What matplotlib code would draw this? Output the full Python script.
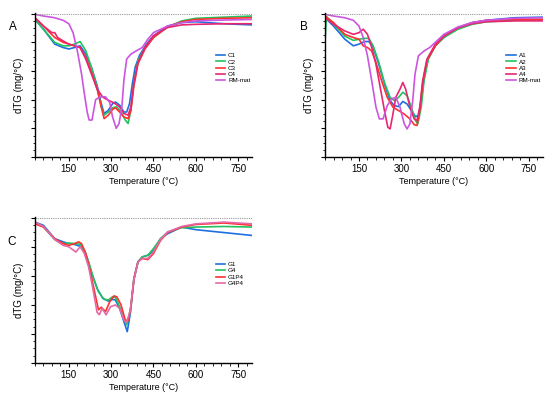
import numpy as np
import matplotlib.pyplot as plt
from matplotlib.ticker import MultipleLocator, NullFormatter

plt.rcParams['font.family'] = ['Liberation Sans', 'DejaVu Sans']

# ---- panel A (values are dTG depth below zero, arbitrary units) ----
t_c1 = [30, 60, 100, 130, 150, 170, 190, 210, 230, 250, 265, 275, 290, 305, 315, 330, 345, 355, 365, 375, 385, 400, 425, 450, 500, 550, 600, 700, 800]
c1 = [0.20, 0.54, 1.06, 1.18, 1.23, 1.18, 1.12, 1.41, 1.87, 2.50, 3.14, 3.48, 3.37, 3.14, 3.08, 3.19, 3.43, 3.43, 3.14, 2.45, 1.87, 1.46, 1.06, 0.77, 0.43, 0.31, 0.28, 0.35, 0.39]
t_c2 = [30, 60, 100, 130, 150, 170, 190, 210, 230, 250, 265, 275, 290, 305, 320, 335, 350, 360, 370, 380, 395, 420, 450, 500, 550, 600, 700, 800]
c2 = [0.20, 0.54, 1.00, 1.12, 1.12, 1.06, 0.97, 1.29, 1.87, 2.56, 3.25, 3.54, 3.43, 3.28, 3.25, 3.43, 3.71, 3.83, 3.37, 2.45, 1.64, 1.18, 0.83, 0.46, 0.25, 0.16, 0.12, 0.08]
t_c3 = [30, 60, 100, 130, 150, 170, 190, 210, 230, 250, 265, 275, 290, 305, 315, 330, 345, 360, 370, 380, 395, 420, 450, 500, 550, 600, 700, 800]
c3 = [0.14, 0.43, 0.83, 1.00, 1.06, 1.12, 1.18, 1.52, 2.04, 2.62, 3.25, 3.66, 3.54, 3.34, 3.28, 3.43, 3.60, 3.66, 3.37, 2.56, 1.75, 1.23, 0.83, 0.46, 0.28, 0.20, 0.16, 0.14]
t_c4 = [30, 60, 90, 100, 110, 130, 150, 170, 190, 210, 230, 250, 270, 290, 310, 330, 345, 360, 370, 380, 395, 420, 450, 500, 550, 600, 700, 800]
c4 = [0.14, 0.43, 0.66, 0.66, 0.83, 0.95, 1.06, 1.12, 1.18, 1.58, 2.10, 2.62, 2.91, 3.02, 3.11, 3.25, 3.48, 3.54, 3.25, 2.45, 1.70, 1.18, 0.77, 0.48, 0.39, 0.37, 0.35, 0.35]
t_rma = [30, 60, 100, 130, 150, 165, 180, 195, 205, 215, 222, 232, 245, 260, 280, 295, 305, 318, 328, 338, 345, 355, 370, 390, 410, 430, 450, 500, 550, 600, 700, 800]
rma = [0.02, 0.08, 0.14, 0.23, 0.35, 0.66, 1.29, 2.10, 2.79, 3.43, 3.71, 3.71, 3.00, 2.90, 2.90, 3.10, 3.60, 4.00, 3.83, 3.25, 2.33, 1.58, 1.41, 1.29, 1.18, 0.89, 0.66, 0.43, 0.31, 0.25, 0.22, 0.20]

# ---- panel B ----
t_a1 = [30, 60, 100, 130, 150, 170, 185, 200, 220, 240, 260, 275, 290, 305, 320, 335, 350, 360, 370, 380, 395, 420, 450, 500, 550, 600, 700, 800]
a1 = [0.14, 0.43, 0.89, 1.12, 1.06, 0.97, 0.97, 1.18, 1.76, 2.45, 3.03, 3.21, 3.24, 3.06, 3.15, 3.38, 3.59, 3.55, 3.03, 2.22, 1.53, 1.12, 0.83, 0.49, 0.31, 0.23, 0.14, 0.12]
t_a2 = [30, 35, 100, 130, 150, 170, 185, 200, 220, 240, 260, 275, 290, 305, 320, 335, 350, 358, 370, 380, 395, 420, 450, 500, 550, 600, 700, 800]
a2 = [0.95, 0.10, 0.78, 0.93, 0.89, 0.86, 0.86, 1.12, 1.70, 2.40, 2.92, 3.03, 2.92, 2.74, 2.86, 3.26, 3.73, 3.84, 3.26, 2.34, 1.59, 1.12, 0.83, 0.54, 0.37, 0.28, 0.23, 0.20]
t_a3 = [30, 60, 100, 130, 150, 165, 180, 195, 210, 230, 250, 270, 290, 310, 330, 345, 355, 365, 375, 390, 420, 450, 500, 550, 600, 700, 800]
a3 = [0.08, 0.31, 0.72, 0.83, 0.89, 1.12, 1.18, 1.30, 1.70, 2.34, 2.92, 3.26, 3.38, 3.50, 3.67, 3.87, 3.90, 3.38, 2.45, 1.64, 1.12, 0.78, 0.49, 0.31, 0.23, 0.20, 0.20]
t_a4 = [30, 60, 100, 130, 150, 165, 180, 195, 210, 225, 240, 252, 260, 270, 280, 295, 305, 315, 330, 345, 355, 365, 375, 390, 420, 450, 500, 550, 600, 700, 800]
a4 = [0.14, 0.37, 0.60, 0.72, 0.66, 0.54, 0.72, 1.18, 1.76, 2.57, 3.38, 3.96, 4.02, 3.50, 2.92, 2.63, 2.40, 2.63, 3.26, 3.67, 3.73, 3.26, 2.34, 1.59, 1.06, 0.78, 0.49, 0.35, 0.28, 0.25, 0.25]
t_rmb = [30, 60, 100, 130, 150, 165, 180, 195, 210, 222, 235, 250, 265, 280, 295, 310, 320, 330, 340, 348, 360, 380, 400, 425, 450, 500, 550, 600, 700, 800]
rmb = [0.02, 0.08, 0.14, 0.23, 0.43, 0.83, 1.47, 2.34, 3.26, 3.67, 3.67, 3.21, 2.97, 2.92, 3.26, 3.84, 4.02, 3.84, 3.03, 2.11, 1.47, 1.30, 1.18, 0.95, 0.72, 0.46, 0.31, 0.23, 0.16, 0.14]

# ---- panel C ----
t_g1 = [30, 60, 100, 130, 150, 170, 190, 205, 215, 230, 250, 270, 290, 305, 315, 330, 345, 357, 368, 380, 395, 410, 430, 450, 475, 500, 550, 600, 700, 800]
g1 = [0.15, 0.26, 0.72, 0.83, 0.89, 0.92, 0.98, 1.12, 1.40, 1.86, 2.43, 2.77, 2.87, 2.81, 2.83, 3.12, 3.57, 3.92, 3.29, 2.15, 1.52, 1.35, 1.29, 1.12, 0.72, 0.55, 0.32, 0.41, 0.51, 0.61]
t_g4 = [30, 60, 100, 130, 150, 170, 190, 205, 220, 235, 255, 275, 290, 305, 315, 330, 345, 355, 368, 380, 395, 410, 430, 450, 475, 500, 550, 600, 700, 800]
g4 = [0.15, 0.32, 0.75, 0.89, 0.87, 0.89, 0.91, 1.12, 1.51, 2.03, 2.55, 2.81, 2.83, 2.72, 2.74, 3.06, 3.46, 3.69, 3.23, 2.15, 1.52, 1.35, 1.29, 1.06, 0.72, 0.49, 0.34, 0.32, 0.30, 0.32]
t_g1p4 = [30, 60, 100, 130, 150, 170, 185, 195, 210, 225, 240, 255, 265, 280, 295, 310, 320, 335, 350, 360, 370, 382, 395, 410, 430, 450, 475, 500, 550, 600, 700, 800]
g1p4 = [0.21, 0.32, 0.72, 0.89, 0.95, 0.89, 0.83, 0.89, 1.23, 1.80, 2.49, 3.17, 3.08, 3.23, 2.89, 2.69, 2.72, 3.00, 3.52, 3.54, 3.06, 2.03, 1.52, 1.40, 1.44, 1.23, 0.78, 0.51, 0.32, 0.23, 0.18, 0.26]
t_g4p4 = [30, 60, 100, 130, 150, 175, 190, 205, 220, 235, 250, 258, 268, 282, 298, 315, 330, 345, 355, 368, 380, 395, 410, 430, 450, 475, 500, 550, 600, 700, 800]
g4p4 = [0.15, 0.30, 0.75, 0.95, 1.00, 1.18, 1.00, 1.23, 1.69, 2.43, 3.25, 3.34, 3.12, 3.34, 3.06, 3.00, 3.12, 3.52, 3.61, 3.17, 2.15, 1.52, 1.40, 1.40, 1.17, 0.75, 0.49, 0.30, 0.21, 0.15, 0.21]

x_ticks = [150, 300, 450, 600, 750]

BLUE = '#1f6fe0'
GREEN = '#22c35e'
RED = '#ff3030'
PINK = '#e8266f'
VIOLET = '#cc55e0'
LPINK = '#e36aa6'

fig = plt.figure(figsize=(5.5, 3.96), dpi=100)


def panel(rect, series, letter, lxy, leg_anchor):
    ax = fig.add_axes(rect)
    for t, v, c, name in series:
        ax.plot(t, -np.array(v), color=c, lw=1.2, label=name)
    ax.axhline(0, color='#999999', lw=0.8, ls=(0, (1, 1)))
    ax.set_xlim(30, 800)
    ax.set_ylim(-5, 0.03)
    ax.set_xticks(x_ticks)
    ax.xaxis.set_minor_locator(MultipleLocator(30))
    ax.yaxis.set_major_locator(MultipleLocator(1))
    ax.yaxis.set_minor_locator(MultipleLocator(0.25))
    ax.yaxis.set_major_formatter(NullFormatter())
    ax.tick_params(axis='both', which='major', length=3, width=0.8, labelsize=7, pad=2)
    ax.tick_params(axis='both', which='minor', length=1.8, width=0.6)
    for s in ['top', 'right']:
        ax.spines[s].set_visible(False)
    for s in ['left', 'bottom']:
        ax.spines[s].set_linewidth(1.0)
    ax.set_xlabel('Temperature (°C)', fontsize=6.5, labelpad=2)
    ax.set_ylabel('dTG (mg/°C)', fontsize=7, labelpad=3)
    ax.legend(loc='upper left', bbox_to_anchor=leg_anchor, fontsize=4.5, frameon=False,
              handlelength=1.5, handletextpad=0.5, labelspacing=0.15, borderaxespad=0)
    fig.text(lxy[0], lxy[1], letter, fontsize=8.5, ha='center', va='center')
    return ax


panel([0.0636, 0.6035, 0.395, 0.364],
      [(t_c1, c1, BLUE, 'C1'), (t_c2, c2, GREEN, 'C2'), (t_c3, c3, RED, 'C3'),
       (t_c4, c4, PINK, 'C4'), (t_rma, rma, VIOLET, 'RM-mat')],
      'A', (0.024, 0.932), (0.82, 0.74))
panel([0.591, 0.6035, 0.396, 0.364],
      [(t_a1, a1, BLUE, 'A1'), (t_a2, a2, GREEN, 'A2'), (t_a3, a3, RED, 'A3'),
       (t_a4, a4, PINK, 'A4'), (t_rmb, rmb, VIOLET, 'RM-mat')],
      'B', (0.553, 0.932), (0.82, 0.74))
panel([0.0636, 0.0833, 0.395, 0.369],
      [(t_g1, g1, BLUE, 'G1'), (t_g4, g4, GREEN, 'G4'), (t_g1p4, g1p4, RED, 'G1P4'),
       (t_g4p4, g4p4, LPINK, 'G4P4')],
      'C', (0.022, 0.389), (0.82, 0.71))

fig.savefig('out.png', dpi=100)
